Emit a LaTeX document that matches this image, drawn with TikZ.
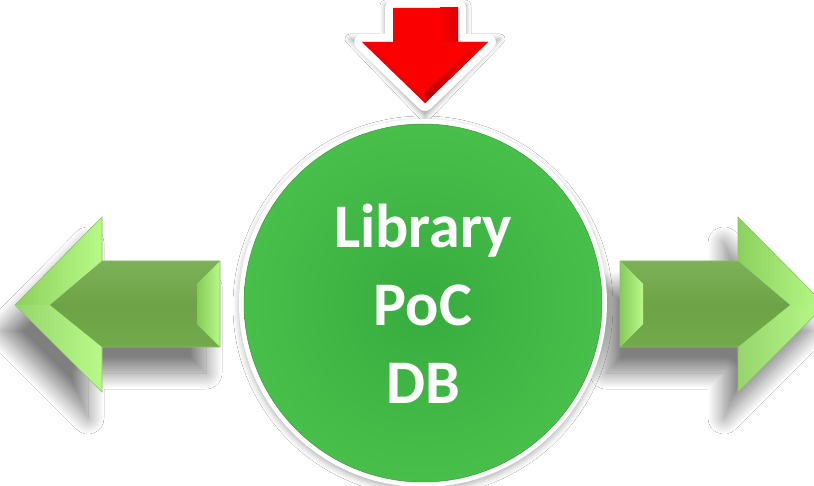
\documentclass[tikz,border=0pt]{standalone}
\usepackage{fontspec}
\newfontfamily\calib{Carlito}
\usetikzlibrary{shadows.blur}
\definecolor{arrdark}{HTML}{72AA4A}
\definecolor{arrmid}{HTML}{8CD05E}
\definecolor{arrlight}{HTML}{A8F07A}
\definecolor{arrbright}{HTML}{B8FA88}
\definecolor{arredge}{HTML}{8EBF6E}
\definecolor{dbin}{HTML}{37AC3F}
\definecolor{dbout}{HTML}{48BF4A}
\definecolor{redmain}{HTML}{FA0000}
\definecolor{reddark}{HTML}{B80000}
\tikzset{
  arrshadow/.style={blur shadow={shadow xshift=-14pt, shadow yshift=-26pt, shadow blur radius=16pt, shadow opacity=50, shadow blur steps=24}},
  dbtextstyle/.style={font=\calib\bfseries\fontsize{62}{78}\selectfont, align=center},
}
\newcommand\greenarrowdraw{%
  \path[arrshadow] (15,305) -- (102,217) -- (102,261) -- (220,261) -- (220,347) -- (102,347) -- (102,392) -- cycle;
  \fill[arrlight] (15,305) -- (102,217) -- (102,261) -- (220,261) -- (220,347) -- (102,347) -- (102,392) -- cycle;
  % upper ear
  \shade[left color=arrmid, right color=arrbright] (15,305) -- (102,217) -- (102,261) -- (50,305) -- cycle;
  % lower ear
  \shade[left color=arrmid!90!white, right color=arrbright] (15,305) -- (50,305) -- (102,347) -- (102,392) -- cycle;
  % flat top face
  \shade[top color=arrdark!92!white, bottom color=arrdark, middle color=arrdark!96!black]
    (50,305) -- (102,261) -- (220,261) -- (197,284) -- (197,324) -- (220,347) -- (102,347) -- cycle;
  % end face
  \shade[left color=arrmid!85!arrdark, right color=arrbright] (220,261) -- (220,347) -- (197,324) -- (197,284) -- cycle;
  \draw[arredge, line width=0.6pt, line join=miter] (15,305) -- (102,217) -- (102,261) -- (220,261) -- (220,347) -- (102,347) -- (102,392) -- cycle;
}
\begin{document}
\begin{tikzpicture}[x=1pt,y=-1pt]
\useasboundingbox (0,0) rectangle (814,486);
\fill[white] (0,0) rectangle (814,486);
\begin{scope}
\clip (0,0) rectangle (814,486);
% left arrow
\begin{scope}
\greenarrowdraw
\end{scope}
% right arrow (mirrored)
\begin{scope}[shift={(840,0)}, xscale=-1]
\greenarrowdraw
\end{scope}
% red arrow
\path[blur shadow={shadow xshift=0pt, shadow yshift=-5pt, shadow blur radius=5pt, shadow opacity=35}]
  (385,0) -- (466,0) -- (466,34) -- (500,34) -- (425,112) -- (350,34) -- (385,34) -- cycle;
\draw[white, fill=white, line width=16pt, line join=round]
  (393,8) -- (458,8) -- (458,42) -- (488,42) -- (425,103) -- (362,42) -- (393,42) -- cycle;
\fill[redmain] (393,8) -- (458,8) -- (458,42) -- (488,42) -- (425,103) -- (362,42) -- (393,42) -- cycle;
\shade[left color=redmain, right color=red!85!black] (440,8) -- (458,8) -- (458,42) -- (440,42) -- cycle;
\shade[top color=redmain, bottom color=reddark] (458,42) -- (488,42) -- (425,103) -- (425,92) -- (476,46) -- (458,46) -- cycle;
\fill[red!90!black, opacity=0.5] (425,103) -- (362,42) -- (368,44) -- (425,98) -- cycle;
% database circle
\path[blur shadow={shadow xshift=0pt, shadow yshift=-3pt, shadow blur radius=6pt, shadow opacity=30}] (423,303) circle (184);
\fill[white] (423,303) circle (184);
\node[circle, minimum size=358pt, inner sep=0pt, inner color=dbin, outer color=dbout, draw=dbout!80!black, line width=0.5pt] (db) at (423,303) {};
\node[dbtextstyle, text=white] (dbtext) at ([yshift=-1pt]db.center) {Library\\PoC\\DB};
\end{scope}
\end{tikzpicture}
\end{document}
